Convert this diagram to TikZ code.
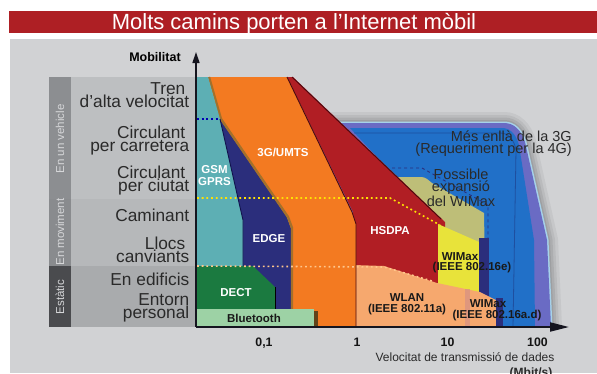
\documentclass[tikz,border=0pt]{standalone}
\usepackage{fontspec}
\setmainfont{Liberation Sans}
\usetikzlibrary{arrows.meta}

\definecolor{bggray}{HTML}{D1D2D4}
\definecolor{titlered}{HTML}{AE1F24}
\definecolor{stripveh}{HTML}{8C8E91}
\definecolor{stripmov}{HTML}{898B8E}
\definecolor{stripest}{HTML}{4A4B4E}
\definecolor{areaveh}{HTML}{BDBFC1}
\definecolor{areamov}{HTML}{B6B8BA}
\definecolor{areaest}{HTML}{A9ABAD}
\definecolor{labtext}{HTML}{2A2A2A}
\definecolor{striptext}{HTML}{D6D7D9}
\definecolor{gsmteal}{HTML}{5DAFB4}
\definecolor{edgenavy}{HTML}{2B2E7C}
\definecolor{umtsorange}{HTML}{F37A21}
\definecolor{umtsbrown}{HTML}{A4702A}
\definecolor{hsdpared}{HTML}{B11E24}
\definecolor{hsdpadark}{HTML}{4A0A10}
\definecolor{wlanpeach}{HTML}{F6A86E}
\definecolor{wlanmauve}{HTML}{D08C88}
\definecolor{wimaxyellow}{HTML}{E8E33A}
\definecolor{wimaxolive}{HTML}{BEBE78}
\definecolor{fourgblue}{HTML}{2170C8}
\definecolor{fourgpurple}{HTML}{6A6BC4}
\definecolor{fourgline}{HTML}{1E4FA0}
\definecolor{fourghalo}{HTML}{A6D2EA}
\definecolor{dectgreen}{HTML}{1B7A40}
\definecolor{btgreen}{HTML}{9DD2A5}
\definecolor{axisdark}{HTML}{15151F}

\begin{document}
\begin{tikzpicture}[x=1pt,y=-1pt,
  rowlabel/.style={font=\fontsize{17.3}{13}\selectfont, text=labtext, align=right,
    anchor=base east, inner sep=0pt},
  striplabel/.style={font=\fontsize{11.5}{12}\selectfont, text=striptext, rotate=90,
    inner sep=0pt},
  techwhite/.style={font=\bfseries\fontsize{11.5}{12.5}\selectfont, text=white,
    anchor=base, inner sep=0pt, align=center},
  techblack/.style={font=\bfseries\fontsize{11.5}{11.5}\selectfont, text=black!90,
    anchor=base, inner sep=0pt, align=center},
  note/.style={font=\fontsize{14.5}{12.5}\selectfont, text=labtext, inner sep=0pt},
  ticklabel/.style={font=\bfseries\fontsize{12.3}{13}\selectfont, text=black!92,
    anchor=base, inner sep=0pt},
  axis/.style={axisdark, line width=1.6pt},
  dotline/.style={line width=1.6pt, dash pattern=on 1.8pt off 2.9pt},
  edgeline/.style={line width=0.9pt}
]
\useasboundingbox (0,0) rectangle (597,373);
\fill[white] (0,0) rectangle (597,373);
\fill[bggray] (10,39) rectangle (597,373);

% title band
\fill[titlered] (9,11) rectangle (597,33);
\node[font=\fontsize{22}{24}\selectfont, text=white, anchor=base, inner sep=0pt]
  (title) at (294,29) {Molts camins porten a l’Internet mòbil};

% mobility categories on the left
\fill[areaveh] (71,77) rectangle (196,199);
\fill[areamov] (71,199) rectangle (196,266);
\fill[areaest] (71,266) rectangle (196,327);
\fill[stripveh] (49,77) rectangle (71,199);
\fill[stripmov] (49,199) rectangle (71,266);
\fill[stripest] (49,266) rectangle (71,327);
\node[striplabel] (vehicle) at (60,139) {En un vehicle};
\node[striplabel] (moviment) at (60,232) {En moviment};
\node[striplabel] (estatic) at (60,297) {Estàtic};

% multi-line labels are placed by the baseline of their last line
\node[rowlabel] (tren) at (189.5,107) {Tren\kern4pt\\d’alta velocitat};
\node[rowlabel] (carretera) at (189.5,151) {Circulant\kern4pt\\per carretera};
\node[rowlabel] (ciutat) at (189.5,191) {Circulant\kern4pt\\per ciutat};
\node[rowlabel] (caminant) at (189.5,221.5) {Caminant};
\node[rowlabel] (llocs) at (189.5,262) {Llocs\kern4pt\\canviants};
\node[rowlabel] (edificis) at (189.5,285) {En edificis};
\node[rowlabel] (entorn) at (189.5,318) {Entorn\\personal};

% beyond 3G: soft halo, purple rim and blue body
\path[save path=\fourgpath] (300,123) -- (504,123)
  .. controls (514,123) and (521,130) .. (525,142) -- (547,240) -- (551,327)
  -- (300,327) -- cycle;
\begin{scope}
  \clip (280,95) rectangle (597,327);
  \foreach \w/\o in {22/0.05,16/0.06,11/0.07,6/0.08}
    \draw[use path=\fourgpath, line width=\w pt, black, opacity=\o];
  \draw[use path=\fourgpath, line width=3pt, fourghalo];
\end{scope}
\fill[use path=\fourgpath, fourgpurple];
\fill[fourgblue] (350,128) -- (502,128)
  .. controls (510,128) and (516,134) .. (519,145) -- (534,240) -- (535,327)
  -- (420,327) -- (420,203) -- cycle;
\draw[fourgline, line width=0.8pt] (354,133) -- (500,133)
  .. controls (508,133) and (514,139) .. (516,150) -- (513,327);

% possible WiMax expansion
\draw[edgenavy, line width=0.9pt, dashed] (392,168) -- (422,168) -- (488,205) -- (488,250);
\fill[wimaxolive] (390,177) -- (421,177) .. controls (426,177) and (428,180) .. (432,183)
  -- (484,213) -- (486,327) -- (400,327) -- cycle;

% HSDPA
\fill[hsdpared] (287,77) -- (293,77) -- (445,222) -- (445,327) -- (353,327) -- (353,212) -- cycle;
\draw[hsdpadark, edgeline] (292,77) -- (441,219);

% WiMax 802.16e
\fill[wimaxyellow] (438,224) -- (479,242) -- (479,300) -- (438,300) -- cycle;
\fill[edgenavy] (479,238) rectangle (489,327);

% WLAN and fixed WiMax
\fill[wlanpeach] (353,265) -- (384,266) -- (437,283) -- (480,292) -- (496,300)
  -- (496,327) -- (353,327) -- cycle;
\fill[wlanmauve, opacity=0.6] (465,289) rectangle (470,327);
\fill[edgenavy] (496,298) rectangle (503,327);

% EDGE, 3G/UMTS and GSM/GPRS
\fill[edgenavy] (215,100) -- (287,217) -- (291,228) -- (291,312) -- (215,312) -- cycle;
\fill[umtsorange] (208,77) -- (287,77) -- (352,212) -- (356,224) -- (356,327)
  -- (291,327) -- (291,228) -- (287,217) -- (220,119) -- cycle;
\draw[hsdpadark, edgeline] (287,77) -- (352,212) -- (356,224) -- (356,327);
\draw[umtsbrown, line width=2.4pt] (209,77) -- (221,119) -- (288,217) -- (292,228) -- (292,327);
\fill[gsmteal] (197,77) -- (208,77) -- (220,119) -- (240,207) -- (243,220)
  -- (243,266) -- (197,266) -- cycle;
\draw[axisdark!80!blue, edgeline] (220,119) -- (240,207) -- (243,220) -- (243,266);

% DECT and Bluetooth
\fill[dectgreen] (197,266) -- (253,266) -- (275,287) -- (275,309) -- (197,309) -- cycle;
\draw[black, edgeline] (275,287) -- (275,309);
\fill[btgreen] (197,309) rectangle (314,327);
\fill[umtsbrown!60!black] (314,311) rectangle (318,327);

% dotted category boundaries
\draw[dotline, blue!70!black] (197,119) -- (219,119);
\draw[dotline, yellow!85!orange] (197,198) -- (390,198) -- (440,225);
\draw[dotline, orange!45!white] (197,266) -- (384,267) -- (432,281);

% axes
\coordinate (origin) at (196,327);
\coordinate (ytip) at (196,52);
\coordinate (xtip) at (569,327);
\draw[axis, line width=1.4pt, -{Triangle[length=11pt,width=7pt]}] (origin) -- (ytip);
\draw[axis, line width=2pt, -{Triangle[length=19pt,width=9pt]}] (origin) -- (xtip);
\node[font=\bfseries\fontsize{12.5}{13}\selectfont, anchor=base, inner sep=0pt]
  (mobilitat) at (155,61) {Mobilitat};

\node[ticklabel] (t01) at (264,346.5) {0,1};
\node[ticklabel] (t1) at (357,346.5) {1};
\node[ticklabel] (t10) at (447.5,346.5) {10};
\node[ticklabel] (t100) at (537.5,346.5) {100};
\node[font=\fontsize{12}{13}\selectfont, text=labtext, anchor=base, inner sep=0pt]
  (xlabel) at (465,361.5) {Velocitat de transmissió de dades};
\node[font=\bfseries\fontsize{12}{13}\selectfont, text=labtext, anchor=base, inner sep=0pt]
  (xunit) at (531,376) {(Mbit/s)};

% technology names
\node[techwhite] (gsm) at (214.5,185.5) {GSM\\GPRS};
\node[techwhite] (umts) at (283,156) {3G/UMTS};
\node[techwhite] (edge) at (269,242) {EDGE};
\node[techwhite] (dect) at (236,296) {DECT};
\node[techblack] (bt) at (254,322) {Bluetooth};
\node[techwhite] (hsdpa) at (390,234) {HSDPA};
\node[techblack] (wlan) at (407,312.5) {WLAN\\(IEEE 802.11a)};
\node[techblack] (wimaxe) at (460,260) {WIMax};
\node[techblack] (wimaxeieee) at (472,270.5) {(IEEE 802.16e)};
\node[techblack] (wimaxad) at (488,307) {WIMax};
\node[techblack] (wimaxadieee) at (497,318.5) {(IEEE 802.16a.d)};

% notes on the wide areas
\node[note, align=right, anchor=base east] (beyond) at (572,153.5)
  {Més enllà de la 3G\\(Requeriment per la 4G)};
\node[note, align=center, anchor=base] (expansio) at (461,206.5)
  {Possible\\expansió\\del WIMax};
\end{tikzpicture}
\end{document}
